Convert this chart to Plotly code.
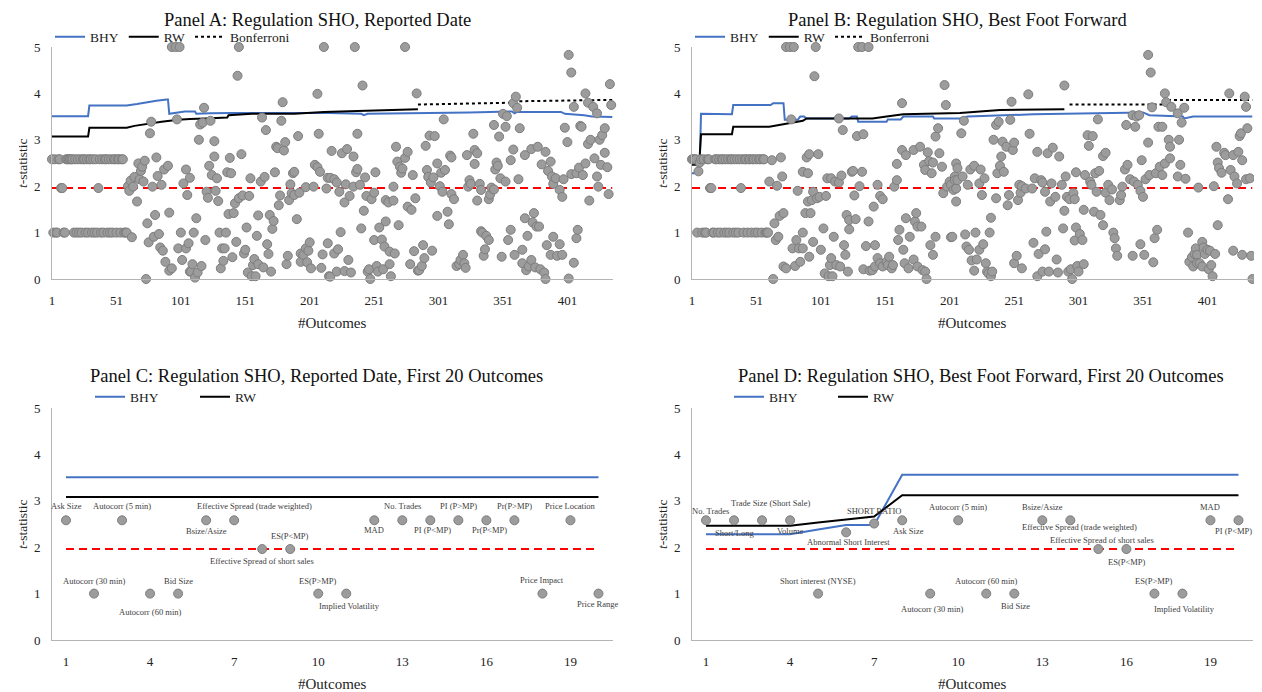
import plotly.graph_objects as go

W, H = 1262, 692
FONT = "Liberation Serif"

# ---------------- Panel A data (Reported Date) ----------------
# t-statistics of outcomes 1-59 (outcome number = position)
a_first_t = [2.58, 1.0, 2.58, 1.0, 1.0, 2.58, 2.58, 1.96, 1.96, 1.0,
             1.0, 2.58, 2.58, 2.58, 2.58, 2.58, 2.58, 1.0, 2.58, 1.0,
             2.58, 1.0, 2.58, 1.0, 2.58, 2.58, 1.0, 2.58, 1.0, 2.58,
             2.58, 1.0, 2.58, 1.0, 2.58, 1.0, 1.96, 2.58, 1.0, 2.58,
             1.0, 2.58, 2.58, 1.0, 2.58, 1.0, 2.58, 1.0, 2.58, 2.58,
             1.0, 2.58, 2.58, 1.0, 2.58, 2.58, 1.0, 1.0, 1.0]
# (outcome, t-statistic) for outcomes 60-216
a_points_mid = [
    (60, 2.0), (61, 1.9), (62, 2.12), (63, 0.9), (64, 1.99), (65, 2.2), (67, 1.67), (68, 2.49), (69, 2.15), (70, 2.33),
    (71, 2.42), (72, 2.1), (73, 2.55), (74, 0.0), (75, 1.2), (76, 0.79), (77, 3.14), (78, 3.39), (79, 1.99), (80, 0.91),
    (81, 1.38), (82, 2.62), (83, 2.22), (84, 0.97), (85, 0.68), (86, 2.03), (87, 0.61), (88, 2.36), (89, 0.37), (91, 2.44),
    (92, 1.43), (92, 0.18), (94, 5.0), (94, 0.23), (97, 5.0), (98, 3.44), (99, 0.66), (100, 5.0), (101, 1.0), (102, 0.41),
    (103, 2.06), (105, 2.36), (105, 0.66), (106, 1.81), (107, 0.77), (108, 0.16), (108, 2.18), (109, 0.16), (110, 0.32), (111, 1.0),
    (112, 0.03), (113, 1.31), (114, 0.14), (115, 3.0), (116, 3.33), (117, 0.28), (118, 3.37), (119, 3.69), (120, 0.84), (121, 1.88),
    (122, 1.75), (123, 2.44), (124, 3.41), (125, 2.24), (127, 2.97), (127, 2.64), (128, 1.9), (129, 2.17), (130, 1.68), (131, 1.0),
    (132, 0.23), (133, 0.66), (134, 0.39), (135, 0.66), (136, 1.0), (137, 2.3), (138, 1.4), (139, 2.61), (140, 2.28), (141, 0.47),
    (142, 1.42), (143, 1.63), (144, 0.8), (145, 4.38), (146, 5.0), (146, 1.74), (148, 2.69), (149, 1.8), (150, 0.55), (151, 0.63),
    (152, 1.11), (153, 0.14), (154, 1.79), (155, 2.17), (156, 0.06), (157, 0.3), (158, 0.43), (159, 0.06), (160, 0.93), (161, 1.37),
    (161, 0.32), (163, 2.1), (164, 3.48), (165, 0.25), (166, 2.2), (167, 3.21), (168, 0.75), (169, 0.54), (170, 1.38), (171, 0.16),
    (172, 1.08), (173, 1.25), (174, 2.3), (175, 2.85), (176, 2.82), (177, 1.59), (178, 1.8), (179, 3.41), (180, 3.81), (181, 2.77),
    (182, 2.95), (183, 0.32), (184, 0.5), (185, 1.7), (186, 2.04), (187, 1.85), (188, 2.28), (189, 2.31), (189, 1.81), (191, 1.29),
    (192, 3.08), (193, 1.86), (194, 0.55), (194, 0.37), (196, 0.52), (198, 1.98), (198, 0.66), (199, 0.36), (200, 0.61), (201, 0.79),
    (202, 0.23), (204, 1.99), (205, 2.46), (207, 3.99), (207, 2.41), (208, 3.13), (209, 2.31), (210, 0.24), (211, 0.53), (212, 5.0),
    (214, 1.95), (215, 2.18), (215, 0.77), (216, 0.06),
]
# (outcome, t-statistic) for outcomes 217-436
a_points_late = [
    (217, 2.18), (217, 0.05), (218, 2.76), (220, 2.15), (220, 0.55), (222, 2.08), (222, 0.16), (223, 0.64), (224, 1.88), (225, 1.01),
    (226, 2.71), (228, 1.65), (228, 0.17), (229, 2.04), (230, 2.8), (231, 0.41), (232, 1.79), (233, 0.14), (235, 2.64), (235, 1.99),
    (236, 5.0), (237, 2.3), (238, 3.13), (238, 2.37), (240, 2.03), (241, 1.09), (242, 4.17), (243, 1.47), (244, 2.19), (245, 1.79),
    (246, 0.16), (247, 0.21), (248, 0.0), (249, 1.72), (251, 1.86), (251, 0.84), (252, 2.3), (253, 0.28), (254, 0.16), (255, 1.11),
    (257, 0.85), (258, 0.21), (259, 0.7), (260, 1.7), (260, 1.24), (262, 1.65), (263, 0.59), (263, 0.32), (264, 0.06), (266, 1.99),
    (266, 1.69), (267, 0.55), (268, 2.85), (269, 2.53), (270, 1.16), (271, 2.42), (272, 2.29), (273, 2.38), (275, 5.0), (275, 2.61),
    (277, 2.74), (277, 1.56), (279, 0.32), (280, 1.49), (281, 2.24), (282, 0.6), (283, 1.74), (284, 4.0), (285, 0.18), (286, 0.19),
    (288, 0.28), (289, 0.73), (290, 0.45), (291, 2.87), (292, 2.35), (293, 2.2), (294, 3.09), (295, 2.08), (296, 0.61), (297, 2.19),
    (298, 3.08), (300, 2.49), (300, 1.36), (302, 2.0), (303, 2.29), (304, 1.88), (305, 3.44), (306, 2.35), (308, 1.45), (309, 1.18),
    (310, 2.66), (311, 2.62), (311, 1.83), (313, 1.72), (315, 0.28), (317, 0.32), (318, 0.41), (320, 0.52), (321, 0.34), (322, 0.24),
    (323, 2.67), (324, 1.99), (325, 2.13), (326, 2.05), (328, 3.13), (329, 2.78), (329, 2.48), (331, 2.71), (331, 1.69), (333, 2.05),
    (334, 1.92), (334, 1.03), (335, 1.0), (336, 0.5), (337, 0.64), (338, 0.93), (340, 1.72), (340, 0.84), (341, 1.82), (342, 1.97),
    (344, 3.32), (344, 1.93), (345, 2.36), (346, 2.51), (347, 2.44), (348, 3.07), (349, 2.17), (350, 0.48), (351, 3.56), (353, 3.28),
    (353, 2.1), (354, 3.51), (355, 0.84), (357, 2.56), (357, 1.06), (359, 3.79), (359, 2.79), (360, 0.52), (361, 3.93), (362, 3.69),
    (363, 2.15), (364, 3.25), (366, 0.63), (366, 0.34), (368, 2.67), (368, 1.31), (369, 0.19), (370, 0.93), (371, 0.27), (373, 2.8),
    (373, 0.41), (374, 1.22), (375, 1.42), (376, 0.25), (377, 1.13), (378, 2.85), (379, 1.13), (380, 0.21), (381, 2.47), (383, 0.14),
    (384, 2.74), (384, 0.0), (385, 0.73), (386, 2.33), (388, 2.53), (388, 0.52), (389, 2.21), (390, 2.05), (390, 0.91), (392, 2.17),
    (393, 0.5), (395, 1.92), (395, 0.75), (397, 1.77), (397, 0.52), (398, 2.15), (399, 3.26), (401, 2.95), (402, 4.83), (402, 0.01),
    (404, 4.45), (404, 2.26), (406, 3.71), (406, 0.35), (408, 2.28), (408, 0.88), (409, 1.06), (410, 2.4), (411, 3.3), (412, 3.28),
    (413, 2.24), (415, 4.0), (415, 2.49), (417, 3.8), (417, 2.91), (418, 1.69), (419, 3.0), (421, 3.71), (422, 2.6), (424, 3.57),
    (424, 2.21), (425, 1.99), (426, 3.0), (427, 2.46), (428, 3.1), (430, 3.25), (430, 2.72), (432, 2.41), (433, 1.83), (434, 4.2),
    (435, 3.75),
]
# threshold curves (outcome, critical t)
a_bhy = [(1, 3.51), (29, 3.51), (30, 3.74), (59, 3.74), (67, 3.77), (74, 3.81), (82, 3.84), (90, 3.87), (91, 3.87),
         (92, 3.56), (100, 3.59), (104, 3.61), (112, 3.61), (113, 3.56), (124, 3.57), (140, 3.58), (216, 3.58),
         (241, 3.56), (243, 3.53), (246, 3.56), (325, 3.59), (358, 3.61), (360, 3.57), (362, 3.6), (396, 3.6),
         (399, 3.56), (414, 3.53), (420, 3.5), (436, 3.49)]
a_rw = [(1, 3.07), (29, 3.07), (30, 3.26), (59, 3.26), (65, 3.3), (76, 3.35), (86, 3.39), (99, 3.43), (108, 3.45),
        (120, 3.46), (137, 3.48), (138, 3.53), (156, 3.56), (189, 3.56), (212, 3.6), (238, 3.62), (257, 3.64), (285, 3.66)]
a_bonf = [(285, 3.76), (336, 3.79), (359, 3.8), (360, 3.83), (436, 3.86)]

# ---------------- Panel B data (Best Foot Forward) ----------------
b_first_t = [2.58, 2.58, 2.58, 2.58, 1.0, 2.32, 2.51, 2.58, 1.0, 2.58,
             1.0, 1.0, 2.58, 2.58, 1.96, 1.96, 1.0, 1.0, 2.58, 2.58,
             1.0, 2.58, 1.0, 2.58, 2.58, 1.0, 2.58, 1.0, 2.58, 1.0,
             2.58, 2.58, 1.0, 2.58, 1.0, 2.58, 1.0, 2.58, 1.96, 2.58,
             1.0, 2.58, 2.58, 1.0, 2.58, 2.58, 1.0, 2.58, 2.58, 1.0,
             2.58, 1.0, 2.58, 2.58, 1.0, 2.58, 2.58, 1.0, 1.0, 1.0]
b_points_mid = [
    (61, 2.1), (63, 2.56), (64, 0.0), (65, 1.2), (66, 0.84), (67, 2.01), (68, 0.91), (69, 1.36), (70, 2.62), (71, 2.21),
    (72, 1.42), (72, 0.27), (74, 5.0), (74, 0.23), (77, 5.0), (78, 3.44), (79, 0.66), (80, 5.0), (81, 0.28), (82, 0.84),
    (83, 1.9), (84, 0.66), (85, 0.37), (87, 2.31), (87, 1.0), (87, 0.66), (89, 1.42), (90, 2.62), (91, 2.28), (91, 1.67),
    (92, 2.69), (92, 0.48), (93, 1.42), (94, 1.7), (95, 1.88), (95, 0.8), (96, 4.37), (97, 5.0), (98, 1.74), (99, 2.69),
    (100, 1.77), (101, 0.63), (103, 1.09), (104, 0.12), (105, 1.79), (106, 2.17), (107, 0.06), (108, 0.3), (109, 2.17), (109, 0.45),
    (110, 0.06), (111, 0.91), (112, 2.1), (113, 0.3), (115, 3.46), (115, 2.08), (116, 0.27), (117, 2.23), (118, 3.21), (119, 0.73),
    (120, 0.52), (121, 1.38), (122, 0.16), (123, 1.27), (123, 1.07), (125, 2.31), (126, 2.33), (127, 1.8), (128, 1.29), (129, 3.08),
    (130, 5.0), (131, 2.0), (133, 5.0), (133, 2.31), (134, 3.12), (134, 0.21), (136, 0.71), (138, 5.0), (138, 1.24), (139, 0.18),
    (141, 0.19), (142, 1.56), (143, 0.73), (143, 0.27), (145, 2.03), (145, 0.45), (147, 1.79), (147, 0.34), (149, 1.72), (149, 0.27),
    (152, 0.37), (153, 0.3), (154, 0.48), (156, 0.23), (157, 0.3), (158, 1.99), (160, 2.13), (160, 2.48), (161, 0.84), (162, 1.06),
    (164, 3.79), (164, 2.78), (165, 0.63), (166, 0.34), (167, 2.67), (167, 1.31), (169, 0.23), (170, 0.91), (173, 2.78), (173, 0.42),
    (174, 1.24), (175, 1.42), (176, 1.13), (176, 0.27), (178, 2.85), (179, 1.13), (180, 0.19), (181, 2.46), (182, 2.35), (182, 0.16),
    (183, 0.0), (184, 2.73), (185, 2.54), (186, 0.73), (187, 2.28), (188, 2.51), (188, 0.52), (190, 3.07), (190, 0.91), (192, 3.25),
    (193, 2.71), (195, 2.42), (196, 1.85), (197, 4.18), (198, 3.75), (199, 1.99), (201, 2.1), (202, 0.9), (202, 2.03), (203, 0.91),
    (204, 1.92), (205, 2.21), (205, 2.13), (206, 1.67), (206, 2.49), (206, 1.95), (207, 2.13), (207, 2.39), (210, 3.14), (211, 2.21),
    (212, 3.41), (213, 0.96), (214, 0.7), (215, 2.03), (216, 0.63),
]
b_points_late = [
    (217, 2.36), (218, 0.4), (220, 2.44), (220, 0.18), (221, 1.0), (222, 0.42), (224, 2.06), (224, 0.63), (225, 2.36), (226, 1.81),
    (227, 0.75), (228, 2.17), (229, 0.34), (230, 0.16), (231, 0.12), (232, 1.0), (233, 1.32), (233, 0.06), (234, 0.16), (235, 3.0),
    (237, 3.32), (237, 1.74), (238, 2.28), (239, 3.39), (240, 2.44), (241, 2.64), (242, 2.96), (243, 2.31), (245, 2.85), (246, 1.59),
    (247, 1.81), (248, 3.43), (249, 3.82), (250, 2.78), (251, 2.94), (251, 0.34), (253, 0.5), (254, 1.7), (255, 2.03), (256, 1.86),
    (257, 2.0), (257, 0.23), (260, 1.95), (262, 3.98), (263, 3.13), (265, 1.95), (266, 0.78), (267, 2.17), (269, 2.74), (269, 0.06),
    (270, 0.54), (272, 2.13), (273, 2.08), (273, 0.16), (275, 1.88), (275, 0.64), (276, 1.02), (277, 2.71), (278, 0.16), (279, 1.67),
    (280, 2.06), (281, 2.83), (283, 1.77), (284, 0.42), (285, 0.14), (286, 2.64), (288, 2.03), (289, 1.09), (290, 4.17), (290, 1.47),
    (291, 2.21), (292, 1.77), (293, 0.16), (294, 1.72), (295, 0.21), (296, 0.0), (297, 1.85), (298, 1.72), (298, 0.83), (299, 2.3),
    (299, 1.11), (300, 0.28), (301, 0.16), (302, 0.97), (304, 0.84), (305, 1.49), (305, 0.32), (306, 2.24), (308, 3.1), (309, 2.87),
    (310, 2.1), (311, 2.03), (312, 3.08), (313, 1.45), (314, 2.28), (315, 1.88), (316, 3.44), (317, 2.33), (318, 1.38), (320, 2.65),
    (320, 1.16), (322, 2.72), (322, 1.86), (324, 2.03), (325, 1.7), (327, 1.93), (328, 1.0), (329, 0.88), (330, 0.66), (331, 0.5),
    (333, 1.7), (334, 1.81), (335, 1.99), (337, 2.36), (338, 3.32), (339, 2.46), (341, 2.15), (343, 3.53), (343, 0.5), (344, 2.1),
    (345, 3.28), (346, 3.5), (347, 2.03), (348, 3.53), (349, 1.9), (349, 0.75), (350, 2.56), (351, 1.77), (352, 0.52), (353, 2.15),
    (355, 4.83), (355, 2.94), (356, 2.24), (357, 4.45), (358, 3.7), (359, 0.36), (360, 0.88), (361, 2.28), (362, 1.06), (363, 3.28),
    (364, 2.42), (366, 3.28), (366, 2.24), (368, 4.0), (368, 2.49), (369, 3.81), (371, 3.0), (372, 2.85), (372, 2.6), (373, 3.71),
    (378, 3.57), (378, 2.21), (379, 3.0), (380, 2.46), (381, 3.37), (383, 3.69), (384, 2.16), (386, 1.0), (387, 0.37), (389, 0.47),
    (390, 0.27), (391, 0.54), (392, 0.66), (393, 0.52), (393, 0.34), (394, 1.97), (395, 0.34), (397, 0.8), (397, 0.27), (398, 0.68),
    (399, 0.54), (401, 0.63), (402, 0.21), (403, 0.61), (404, 0.3), (405, 0.06), (406, 2.0), (407, 0.54), (408, 2.85), (409, 2.51),
    (409, 1.16), (410, 2.39), (412, 2.29), (414, 2.72), (415, 2.67), (417, 1.72), (418, 4.0), (419, 2.35), (421, 2.67), (421, 0.61),
    (422, 2.21), (424, 2.06), (425, 2.74), (426, 3.08), (427, 3.14), (428, 2.56), (428, 0.52), (430, 3.93), (431, 3.71), (431, 2.15),
    (432, 3.25), (434, 2.17), (435, 0.5), (436, 0.0),
]
b_bhy = [(1, 2.28), (4, 2.28), (6, 2.48), (7, 2.48), (8, 3.56), (32, 3.55), (33, 3.75), (62, 3.75), (64, 3.79), (72, 3.79),
         (73, 3.43), (83, 3.43), (85, 3.5), (88, 3.5), (90, 3.46), (123, 3.46), (125, 3.5), (129, 3.5), (130, 3.39),
         (152, 3.39), (153, 3.44), (163, 3.44), (165, 3.5), (188, 3.5), (189, 3.46), (209, 3.46), (215, 3.5),
         (266, 3.55), (351, 3.59), (356, 3.53), (382, 3.5), (383, 3.46), (390, 3.5), (436, 3.5)]
b_rw = [(1, 2.46), (4, 2.46), (7, 2.66), (8, 3.12), (32, 3.12), (33, 3.28), (61, 3.28), (74, 3.35), (87, 3.41),
        (90, 3.46), (141, 3.46), (152, 3.5), (165, 3.55), (209, 3.58), (240, 3.64), (290, 3.66)]
b_bonf = [(294, 3.76), (371, 3.76), (372, 3.86), (436, 3.86)]

# ---------------- Panel C data (first 20, Reported Date) ----------------
c_outcome = [1, 2, 3, 4, 5, 6, 7, 8, 9, 10, 11, 12, 13, 14, 15, 16, 17, 18, 19, 20]
c_tstat = [2.58, 1.0, 2.58, 1.0, 1.0, 2.58, 2.58, 1.96, 1.96, 1.0,
           1.0, 2.58, 2.58, 2.58, 2.58, 2.58, 2.58, 1.0, 2.58, 1.0]
c_labels = ["Ask Size", "Autocorr (30 min)", "Autocorr (5 min)", "Autocorr (60 min)", "Bid Size",
            "Bsize/Asize", "Effective Spread (trade weighted)", "Effective Spread of short sales", "ES(P<MP)",
            "ES(P>MP)", "Implied Volatility", "MAD", "No. Trades", "PI (P<MP)", "PI (P>MP)", "Pr(P<MP)",
            "Pr(P>MP)", "Price Impact", "Price Location", "Price Range"]
c_bhy = [3.51] * 20
c_rw = [3.08] * 20

# ---------------- Panel D data (first 20, Best Foot Forward) ----------------
d_outcome = [1, 2, 3, 4, 5, 6, 7, 8, 9, 10, 11, 12, 13, 14, 15, 16, 17, 18, 19, 20]
d_tstat = [2.58, 2.58, 2.58, 2.58, 1.0, 2.32, 2.51, 2.58, 1.0, 2.58,
           1.0, 1.0, 2.58, 2.58, 1.96, 1.96, 1.0, 1.0, 2.58, 2.58]
d_labels = ["No. Trades", "Short/Long", "Trade Size (Short Sale)", "Volume", "Short interest (NYSE)",
            "Abnormal Short Interest", "SHORT RATIO", "Ask Size", "Autocorr (30 min)", "Autocorr (5 min)",
            "Autocorr (60 min)", "Bid Size", "Bsize/Asize", "Effective Spread (trade weighted)",
            "Effective Spread of short sales", "ES(P<MP)", "ES(P>MP)", "Implied Volatility", "MAD", "PI (P<MP)"]
d_bhy = [2.28, 2.28, 2.28, 2.28, 2.38, 2.48, 2.48, 3.56, 3.56, 3.56,
         3.56, 3.56, 3.56, 3.56, 3.56, 3.56, 3.56, 3.56, 3.56, 3.56]
d_rw = [2.46, 2.46, 2.46, 2.46, 2.53, 2.6, 2.66, 3.12, 3.12, 3.12,
        3.12, 3.12, 3.12, 3.12, 3.12, 3.12, 3.12, 3.12, 3.12, 3.12]

critical_t = 1.96
n_outcomes = 436

# label placement (style): vertical / horizontal offsets in px
c_label_dy = [14, 13, 14, -18, 13, -11, 14, -12, 13, 13, -12, -10, 14, -10, 14, -10, 14, 14, 14, -10]
c_label_dx = [0, 0, 0, 0, 0, 0, 20, 0, 0, 0, 3, 0, 0, 2, 0, 3, 0, 0, 0, 0]
d_label_dy = [9, -13, 17, -11, 13, -10, 13, -11, -15, 13, 13, -12, 13, -7, 9, -13, 13, -15, 13, -11]
d_label_dx = [4, 0, 8, 0, 0, 2, 0, 6, 2, 0, 0, 1, 0, 9, 4, 1, 0, 2, 0, -5]

# ---------------- styles ----------------
BLUE = "#4472C4"
MARKER = dict(size=9, color="#9c9c9c", line=dict(color="#7d7d7d", width=1))
AXIS_LINE = "#b4b4b4"
PAGE_OFFSET = 8  # the page draws the figure 8px in from its top-left corner


def px2x(p):
    return (p - PAGE_OFFSET) / W


def px2y(p):
    return 1 - (p - PAGE_OFFSET) / H


fig = go.Figure()


def add_panel(xa, ya, leg, xs, ts, bhy, rw, bonf, x_end):
    bx, by = zip(*bhy)
    fig.add_trace(go.Scatter(x=bx, y=by, mode="lines", name="BHY", line=dict(color=BLUE, width=2),
                             xaxis=xa, yaxis=ya, legend=leg))
    rx, ry = zip(*rw)
    fig.add_trace(go.Scatter(x=rx, y=ry, mode="lines", name="RW", line=dict(color="black", width=2),
                             xaxis=xa, yaxis=ya, legend=leg))
    if bonf is not None:
        fx, fy = zip(*bonf)
        fig.add_trace(go.Scatter(x=fx, y=fy, mode="lines", name="Bonferroni",
                                 line=dict(color="black", width=2, dash="dot"),
                                 xaxis=xa, yaxis=ya, legend=leg))
    fig.add_trace(go.Scatter(x=[1, x_end], y=[critical_t, critical_t], mode="lines", showlegend=False,
                             line=dict(color="#FF0000", width=2, dash="8px,5px"), xaxis=xa, yaxis=ya))
    fig.add_trace(go.Scatter(x=xs, y=ts, mode="markers", marker=MARKER, showlegend=False, cliponaxis=False,
                             xaxis=xa, yaxis=ya))


# Panel A
a_x = list(range(1, len(a_first_t) + 1)) + [p[0] for p in a_points_mid + a_points_late]
a_y = list(a_first_t) + [p[1] for p in a_points_mid + a_points_late]
add_panel("x", "y", "legend", a_x, a_y, a_bhy, a_rw, a_bonf, n_outcomes)
# Panel B
b_x = list(range(1, len(b_first_t) + 1)) + [p[0] for p in b_points_mid + b_points_late]
b_y = list(b_first_t) + [p[1] for p in b_points_mid + b_points_late]
add_panel("x2", "y2", "legend2", b_x, b_y, b_bhy, b_rw, b_bonf, n_outcomes)
# Panel C
add_panel("x3", "y3", "legend3", c_outcome, c_tstat, list(zip(c_outcome, c_bhy)), list(zip(c_outcome, c_rw)),
          None, c_outcome[-1])
# Panel D
add_panel("x4", "y4", "legend4", d_outcome, d_tstat, list(zip(d_outcome, d_bhy)), list(zip(d_outcome, d_rw)),
          None, d_outcome[-1])

tickfont = dict(family=FONT, size=13, color="#222222")


def xaxis(domain, rng, tickvals, anchor):
    return dict(domain=domain, range=rng, tickvals=tickvals, ticktext=[str(v) for v in tickvals],
                showline=True, linecolor=AXIS_LINE, linewidth=1, showgrid=False, zeroline=False,
                ticks="outside", ticklen=9, tickcolor="rgba(0,0,0,0)", tickfont=tickfont, anchor=anchor,
                automargin=False)


def yaxis(domain, anchor):
    return dict(domain=domain, range=[0, 5], tickvals=[0, 1, 2, 3, 4, 5], showline=True, linecolor=AXIS_LINE,
                linewidth=1, showgrid=False, zeroline=False, ticks="outside", ticklen=8,
                tickcolor="rgba(0,0,0,0)", tickfont=tickfont, anchor=anchor, automargin=False)


top_dom = [px2y(279), px2y(47)]
bot_dom = [px2y(640), px2y(408)]
left_dom = [px2x(52), px2x(612.5)]
right_dom = [px2x(692), px2x(1252.5)]
big_ticks = [1, 51, 101, 151, 201, 251, 301, 351, 401]
small_ticks = [1, 4, 7, 10, 13, 16, 19]

legend_common = dict(orientation="h", xanchor="left", yanchor="middle", bgcolor="rgba(0,0,0,0)",
                     font=dict(family=FONT, size=13.5, color="#222222"), entrywidthmode="pixels",
                     tracegroupgap=0, itemwidth=30)

fig.update_layout(
    width=W, height=H, margin=dict(l=0, r=0, t=0, b=0, pad=0, autoexpand=False),
    paper_bgcolor="white", plot_bgcolor="white",
    font=dict(family=FONT, color="#222222"),
    xaxis=xaxis(left_dom, [1, n_outcomes], big_ticks, "y"),
    yaxis=yaxis(top_dom, "x"),
    xaxis2=xaxis(right_dom, [1, n_outcomes], big_ticks, "y2"),
    yaxis2=yaxis(top_dom, "x2"),
    xaxis3=xaxis(left_dom, [0.5, 20.5], small_ticks, "y3"),
    yaxis3=yaxis(bot_dom, "x3"),
    xaxis4=xaxis(right_dom, [0.5, 20.5], small_ticks, "y4"),
    yaxis4=yaxis(bot_dom, "x4"),
    legend=dict(legend_common, x=px2x(50), y=px2y(37)),
    legend2=dict(legend_common, x=px2x(690), y=px2y(37)),
    legend3=dict(legend_common, x=px2x(90), y=px2y(397), entrywidth=60),
    legend4=dict(legend_common, x=px2x(729), y=px2y(397), entrywidth=59),
    showlegend=True,
)

annotations = []
titles = [("Panel A: Regulation SHO, Reported Date", 317, 20),
          ("Panel B: Regulation SHO, Best Foot Forward", 957, 20),
          ("Panel C: Regulation SHO, Reported Date, First 20 Outcomes", 316, 376),
          ("Panel D: Regulation SHO, Best Foot Forward, First 20 Outcomes", 981, 376)]
for txt, cx, cy in titles:
    annotations.append(dict(text=txt, x=px2x(cx), y=px2y(cy), xref="paper", yref="paper", showarrow=False,
                            xanchor="center", yanchor="middle", font=dict(family=FONT, size=18.5, color="#111111")))
for cx, cy in [(332, 323), (972, 323), (332, 684), (972, 684)]:
    annotations.append(dict(text="#Outcomes", x=px2x(cx), y=px2y(cy), xref="paper", yref="paper",
                            showarrow=False, xanchor="center", yanchor="middle",
                            font=dict(family=FONT, size=15, color="#222222")))
for cx, cy in [(22, 163), (662, 163), (22, 524), (662, 524)]:
    annotations.append(dict(text="<i>t</i>-statistic", x=px2x(cx), y=px2y(cy), xref="paper", yref="paper",
                            showarrow=False, textangle=-90, xanchor="center", yanchor="middle",
                            font=dict(family=FONT, size=13.5, color="#222222")))

lab_font = dict(family=FONT, size=8.5, color="#404040")
for xs, ts, labs, dys, dxs, xr, yr in [(c_outcome, c_tstat, c_labels, c_label_dy, c_label_dx, "x3", "y3"),
                                       (d_outcome, d_tstat, d_labels, d_label_dy, d_label_dx, "x4", "y4")]:
    for xv, tv, lab, dy, dx in zip(xs, ts, labs, dys, dxs):
        annotations.append(dict(text=lab, x=xv, y=tv, xref=xr, yref=yr, showarrow=False, xanchor="center",
                                yanchor="middle", yshift=dy, xshift=dx, font=lab_font))

fig.update_layout(annotations=annotations)
fig.write_html("out.html")
